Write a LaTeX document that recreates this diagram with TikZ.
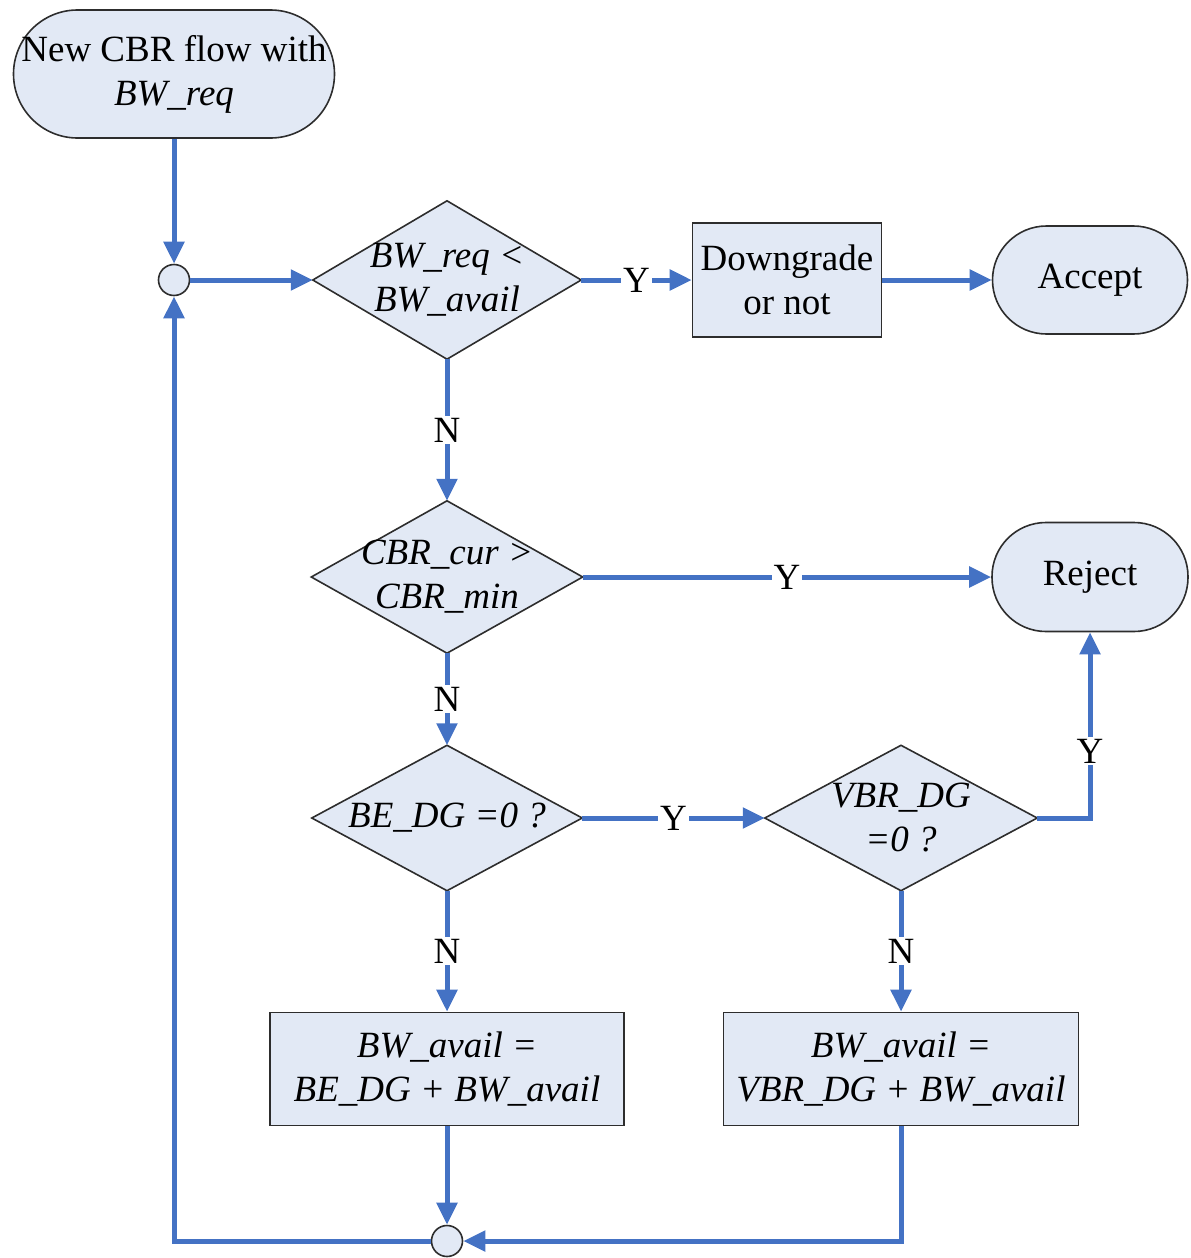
\documentclass[tikz,border=0pt]{standalone}
\usepackage{fontspec}
\setmainfont{Liberation Serif}
\usetikzlibrary{arrows.meta,backgrounds}
\definecolor{flowblue}{RGB}{68,114,196}
\definecolor{boxfill}{RGB}{226,233,245}
\definecolor{edgegray}{RGB}{45,45,45}

\begin{document}
\begin{tikzpicture}[x=1pt,y=-1pt,
  every node/.style={font=\fontsize{37}{44}\selectfont, align=center, inner sep=0pt},
  term/.style={draw=edgegray, fill=boxfill, line width=1.6pt, rounded corners=#1},
  procbox/.style={draw=edgegray, fill=boxfill, line width=1.6pt},
  decide/.style={minimum width=#1},
  diashape/.style={draw=edgegray, fill=boxfill, line width=1.6pt, line join=miter},
  junction/.style={circle, draw=edgegray, fill=boxfill, line width=1.6pt, minimum size=31pt},
  flow/.style={draw=flowblue, line width=5pt, -{Triangle[length=22pt,width=20pt]}},
  lab/.style={fill=white, inner xsep=2pt, inner ysep=2pt}
]
\useasboundingbox (0,0) rectangle (1191,1258);

% terminals and process boxes
\node[term=64pt, minimum width=321pt, minimum height=128pt] (start) at (174,74)
  {New CBR flow with\\\textit{BW\_req}};
\node[junction] (c1) at (174,280) {};
\node[procbox, minimum width=189pt, minimum height=114pt] (down) at (787,280)
  {Downgrade\\or not};
\node[term=54pt, minimum width=195pt, minimum height=108pt] (accept) at (1090,280) {Accept};
\node[term=54pt, minimum width=196pt, minimum height=109pt] (reject) at (1090,577) {Reject};
\node[procbox, minimum width=354pt, minimum height=113pt] (upd1) at (447,1069)
  {\textit{BW\_avail =}\\\textit{BE\_DG + BW\_avail}};
\node[procbox, minimum width=355pt, minimum height=113pt] (upd2) at (901,1069)
  {\textit{BW\_avail =}\\\textit{VBR\_DG + BW\_avail}};
\node[junction] (c2) at (447,1241) {};

% decisions (outline drawn behind the text)
\node[decide=268pt, minimum height=158pt] (d1) at (447,280)
  {\textit{BW\_req <}\\\textit{BW\_avail}};
\node[decide=271pt, minimum height=152pt] (d2) at (447,577)
  {\textit{CBR\_cur >}\\\textit{CBR\_min}};
\node[decide=270pt, minimum height=145pt] (d3) at (447,818)
  {\textit{BE\_DG =0 ?}};
\node[decide=272pt, minimum height=145pt] (d4) at (901,818)
  {\textit{VBR\_DG}\\\textit{=0 ?}};
\begin{scope}[on background layer]
  \foreach \d in {d1,d2,d3,d4}
    \draw[diashape] (\d.north) -- (\d.east) -- (\d.south) -- (\d.west) -- cycle;
\end{scope}

% connectors
\draw[flow] (start.south) -- (c1.north);
\draw[flow] (c1.east) -- (d1.west);
\draw[flow] (d1.east) -- node[lab]{Y} (down.west);
\draw[flow] (down.east) -- (accept.west);
\draw[flow] (d1.south) -- node[lab]{N} (d2.north);
\draw[flow] (d2.east) -- node[lab]{Y} (reject.west);
\draw[flow] (d2.south) -- node[lab]{N} (d3.north);
\draw[flow] (d3.east) -- node[lab]{Y} (d4.west);
\draw[flow] (d4.east) -| node[lab, pos=0.68]{Y} (reject.south);
\draw[flow] (d3.south) -- node[lab]{N} (upd1.north);
\draw[flow] (d4.south) -- node[lab]{N} (upd2.north);
\draw[flow] (upd1.south) -- (c2.north);
\draw[flow] (upd2.south) |- (c2.east);
\draw[flow] (c2.west) -| (c1.south);
\end{tikzpicture}
\end{document}
